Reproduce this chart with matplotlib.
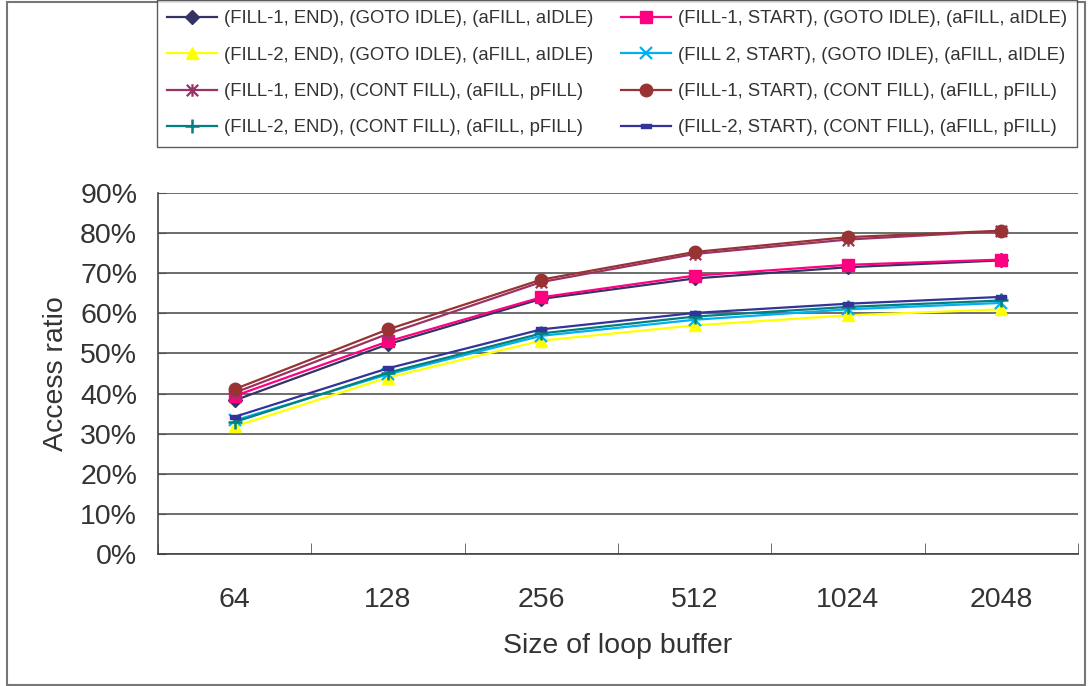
import matplotlib.pyplot as plt
from matplotlib.patches import Rectangle
from matplotlib.path import Path
from matplotlib.ticker import FuncFormatter, FixedLocator

plt.rcParams['font.family'] = ['Liberation Sans', 'DejaVu Sans']

# ---------------------------------------------------
# DATA (access ratio in %)
# ---------------------------------------------------
buffer_sizes = ["64", "128", "256", "512", "1024", "2048"]

fill1_end_goto = [38.3, 52.3, 63.6, 68.7, 71.5, 73.2]
fill1_start_goto = [39.4, 53.0, 64.0, 69.4, 72.1, 73.4]
fill2_end_goto = [31.8, 44.0, 53.2, 57.0, 59.5, 61.0]
fill2_start_goto = [33.3, 44.8, 54.4, 58.4, 61.0, 62.6]
fill1_end_cont = [40.2, 54.9, 67.8, 74.8, 78.4, 80.5]
fill1_start_cont = [41.1, 56.0, 68.4, 75.3, 79.0, 80.6]
fill2_end_cont = [32.9, 45.2, 55.0, 59.2, 61.6, 63.2]
fill2_start_cont = [34.2, 46.3, 56.0, 60.1, 62.4, 64.1]

labels = [
    "(FILL-1, END), (GOTO IDLE), (aFILL, aIDLE)",
    "(FILL-1, START), (GOTO IDLE), (aFILL, aIDLE)",
    "(FILL-2, END), (GOTO IDLE), (aFILL, aIDLE)",
    "(FILL 2, START), (GOTO IDLE), (aFILL, aIDLE)",
    "(FILL-1, END), (CONT FILL), (aFILL, pFILL)",
    "(FILL-1, START), (CONT FILL), (aFILL, pFILL)",
    "(FILL-2, END), (CONT FILL), (aFILL, pFILL)",
    "(FILL-2, START), (CONT FILL), (aFILL, pFILL)",
]
series = [fill1_end_goto, fill1_start_goto, fill2_end_goto, fill2_start_goto,
          fill1_end_cont, fill1_start_cont, fill2_end_cont, fill2_start_cont]

# short dash marker (Excel style)
dash_marker = Path([(-1, -0.45), (1, -0.45), (1, 0.45), (-1, 0.45), (-1, -0.45)],
                   [Path.MOVETO, Path.LINETO, Path.LINETO, Path.LINETO, Path.CLOSEPOLY])
# star marker: an x with a vertical bar through it
star_marker = Path([(-1, -1), (1, 1), (-1, 1), (1, -1), (0, -1.1), (0, 1.1)],
                   [Path.MOVETO, Path.LINETO, Path.MOVETO, Path.LINETO, Path.MOVETO, Path.LINETO])

styles = [
    dict(color="#333366", marker="D", ms=7),
    dict(color="#FF0080", marker="s", ms=8),
    dict(color="#FFFF00", marker="^", ms=9),
    dict(color="#00B0F0", marker="x", ms=8, mew=1.6),
    dict(color="#993366", marker=star_marker, ms=9, mew=1.6),
    dict(color="#993333", marker="o", ms=9),
    dict(color="#008080", marker="+", ms=10, mew=1.8),
    dict(color="#333399", marker=dash_marker, ms=7),
]

# ---------------------------------------------------
# PLOT
# ---------------------------------------------------
fig = plt.figure(figsize=(10.88, 6.86), dpi=100)
ax = fig.add_axes([158 / 1088, 1 - 554 / 686, 920 / 1088, 361 / 686])

x = list(range(len(buffer_sizes)))
handles = []
for vals, lab, st in zip(series, labels, styles):
    h, = ax.plot(x, [v / 100 for v in vals], color=st["color"], marker=st["marker"],
                 markersize=st["ms"], markeredgewidth=st.get("mew", 1.0),
                 markerfacecolor=st["color"], markeredgecolor=st["color"],
                 linewidth=1.6, label=lab, zorder=3)
    handles.append(h)

ax.set_xlim(-0.5, len(buffer_sizes) - 0.5)
ax.set_ylim(0, 0.9)
ax.yaxis.set_major_locator(FixedLocator([i / 10 for i in range(10)]))
ax.yaxis.set_major_formatter(FuncFormatter(lambda v, p: f"{v * 100:.0f}%"))
ax.set_xticks(x)
ax.set_xticklabels(buffer_sizes)
ax.set_xticks([i - 0.5 for i in range(len(buffer_sizes) + 1)], minor=True)

ax.tick_params(axis="x", which="major", length=0, pad=24, labelsize=20.5, labelcolor="#333333")
ax.tick_params(axis="x", which="minor", direction="in", length=8, color="#555555")
ax.tick_params(axis="y", direction="in", length=6, color="#555555", pad=15,
               labelsize=20.5, labelcolor="#333333")

ax.grid(axis="y", color="#555555", linewidth=1.2)
ax.set_axisbelow(True)
for side in ["top", "right"]:
    ax.spines[side].set_visible(False)
for side in ["left", "bottom"]:
    ax.spines[side].set_color("#444444")
    ax.spines[side].set_linewidth(1.2)

ax.set_xlabel("Size of loop buffer", fontsize=20.5, color="#333333", labelpad=14)
ax.set_ylabel("Access ratio", fontsize=20.5, color="#333333", labelpad=8)

# legend filled row by row like the original
order = [0, 2, 4, 6, 1, 3, 5, 7]
leg = fig.legend([handles[i] for i in order], [labels[i] for i in order],
                 ncol=2, loc="upper left", mode="expand",
                 bbox_to_anchor=(157 / 1088, 1 - 7 / 686, 920 / 1088, 0.01),
                 fontsize=13.3, frameon=True, fancybox=False, edgecolor="#333333",
                 handlelength=2.7, handletextpad=0.35, labelspacing=1.05,
                 borderpad=0.55, borderaxespad=0, columnspacing=1.0)
leg.get_frame().set_linewidth(1.0)
for t in leg.get_texts():
    t.set_color("#333333")

# outer chart frame
fig.patches.append(Rectangle((7 / 1088, 1 / 686), 1078 / 1088, 683 / 686,
                             transform=fig.transFigure, fill=False,
                             edgecolor="#777777", linewidth=1.5))

fig.savefig("out.png", dpi=100)
